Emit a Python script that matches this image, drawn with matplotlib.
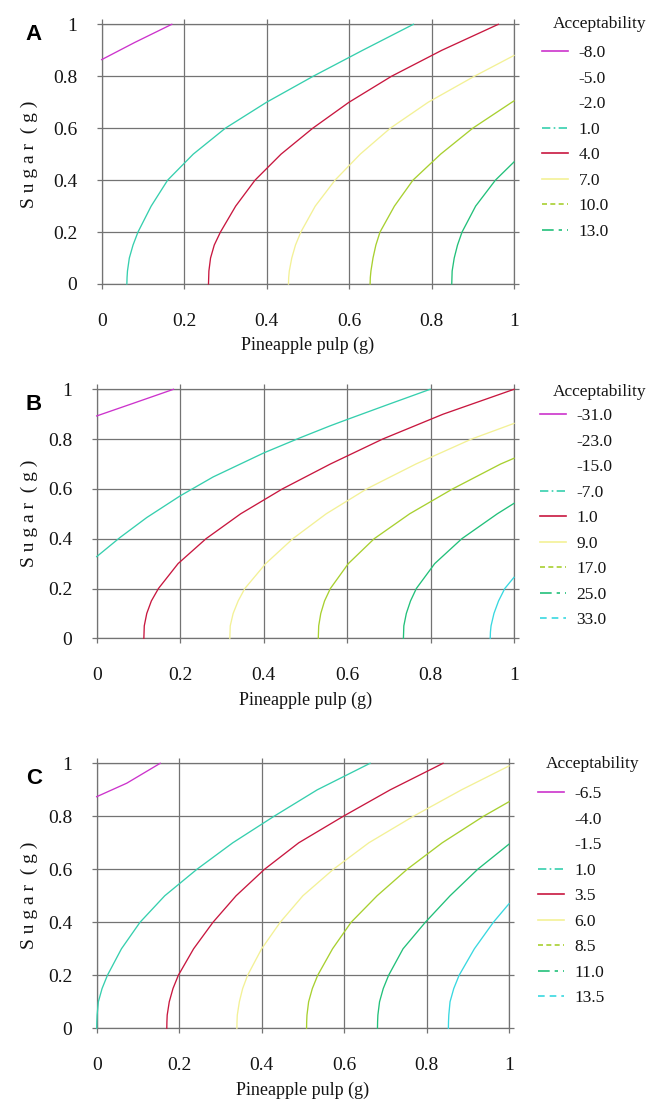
import matplotlib
matplotlib.use("Agg")
import matplotlib.pyplot as plt
from matplotlib.lines import Line2D

W, H = 662, 1111

# ---------------- data ----------------
a_levels = ["-8.0", "-5.0", "-2.0", "1.0", "4.0", "7.0", "10.0", "13.0"]
b_levels = ["-31.0", "-23.0", "-15.0", "-7.0", "1.0", "9.0", "17.0", "25.0", "33.0"]
c_levels = ["-6.5", "-4.0", "-1.5", "1.0", "3.5", "6.0", "8.5", "11.0", "13.5"]

# contour lines, keyed by level: pineapple pulp (x) and sugar (y)
a_curve_x = {
    "-8.0": [0.0, 0.08, 0.17],
    "1.0": [0.061, 0.0615, 0.0625, 0.067, 0.076, 0.088, 0.12, 0.16, 0.222, 0.30, 0.40, 0.513, 0.633, 0.756],
    "4.0": [0.259, 0.2595, 0.26, 0.264, 0.273, 0.288, 0.325, 0.372, 0.435, 0.512, 0.60, 0.703, 0.825, 0.962],
    "7.0": [0.453, 0.4535, 0.455, 0.461, 0.47, 0.483, 0.518, 0.566, 0.627, 0.70, 0.792, 0.904, 1.0],
    "10.0": [0.651, 0.6515, 0.653, 0.658, 0.665, 0.675, 0.71, 0.755, 0.822, 0.90, 0.995, 1.0],
    "13.0": [0.849, 0.8495, 0.85, 0.855, 0.863, 0.874, 0.907, 0.955, 1.0],
}
a_curve_y = {
    "-8.0": [0.864, 0.93, 1.0],
    "1.0": [0.0, 0.025, 0.05, 0.1, 0.15, 0.2, 0.3, 0.4, 0.5, 0.6, 0.7, 0.8, 0.9, 1.0],
    "4.0": [0.0, 0.025, 0.05, 0.1, 0.15, 0.2, 0.3, 0.4, 0.5, 0.6, 0.7, 0.8, 0.9, 1.0],
    "7.0": [0.0, 0.025, 0.05, 0.1, 0.15, 0.2, 0.3, 0.4, 0.5, 0.6, 0.7, 0.8, 0.88],
    "10.0": [0.0, 0.025, 0.05, 0.1, 0.15, 0.2, 0.3, 0.4, 0.5, 0.6, 0.7, 0.705],
    "13.0": [0.0, 0.025, 0.05, 0.1, 0.15, 0.2, 0.3, 0.4, 0.47],
}
b_curve_x = {
    "-31.0": [0.0, 0.088, 0.184],
    "-7.0": [0.0, 0.056, 0.12, 0.2, 0.279, 0.401, 0.487, 0.559, 0.599, 0.70, 0.799],
    "1.0": [0.113, 0.1135, 0.114, 0.12, 0.131, 0.148, 0.195, 0.262, 0.345, 0.445, 0.56, 0.685, 0.83, 1.0],
    "9.0": [0.319, 0.3195, 0.32, 0.327, 0.339, 0.355, 0.405, 0.47, 0.55, 0.647, 0.765, 0.898, 1.0],
    "17.0": [0.531, 0.5315, 0.532, 0.537, 0.546, 0.56, 0.603, 0.665, 0.75, 0.853, 0.968, 1.0],
    "25.0": [0.735, 0.7355, 0.736, 0.742, 0.752, 0.766, 0.81, 0.875, 0.96, 1.0],
    "33.0": [0.943, 0.9435, 0.945, 0.952, 0.963, 0.978, 1.0],
}
b_curve_y = {
    "-31.0": [0.893, 0.944, 1.0],
    "-7.0": [0.328, 0.405, 0.485, 0.572, 0.648, 0.745, 0.805, 0.853, 0.878, 0.94, 1.0],
    "1.0": [0.0, 0.025, 0.05, 0.1, 0.15, 0.2, 0.3, 0.4, 0.5, 0.6, 0.7, 0.8, 0.9, 1.0],
    "9.0": [0.0, 0.025, 0.05, 0.1, 0.15, 0.2, 0.3, 0.4, 0.5, 0.6, 0.7, 0.8, 0.863],
    "17.0": [0.0, 0.025, 0.05, 0.1, 0.15, 0.2, 0.3, 0.4, 0.5, 0.6, 0.7, 0.723],
    "25.0": [0.0, 0.025, 0.05, 0.1, 0.15, 0.2, 0.3, 0.4, 0.5, 0.542],
    "33.0": [0.0, 0.025, 0.05, 0.1, 0.15, 0.2, 0.245],
}
c_curve_x = {
    "-6.5": [0.0, 0.073, 0.154],
    "1.0": [0.0, 0.0003, 0.001, 0.004, 0.013, 0.026, 0.06, 0.105, 0.165, 0.243, 0.33, 0.43, 0.535, 0.663],
    "3.5": [0.17, 0.1703, 0.171, 0.176, 0.185, 0.198, 0.235, 0.282, 0.338, 0.407, 0.49, 0.598, 0.712, 0.84],
    "6.0": [0.34, 0.3403, 0.341, 0.346, 0.354, 0.366, 0.40, 0.445, 0.50, 0.574, 0.66, 0.768, 0.885, 1.0],
    "8.5": [0.509, 0.5093, 0.51, 0.514, 0.523, 0.536, 0.572, 0.617, 0.68, 0.753, 0.838, 0.938, 1.0],
    "11.0": [0.681, 0.6813, 0.682, 0.686, 0.695, 0.708, 0.743, 0.797, 0.857, 0.924, 1.0],
    "13.5": [0.853, 0.8533, 0.854, 0.857, 0.866, 0.879, 0.916, 0.962, 1.0],
}
c_curve_y = {
    "-6.5": [0.874, 0.925, 1.0],
    "1.0": [0.0, 0.025, 0.05, 0.1, 0.15, 0.2, 0.3, 0.4, 0.5, 0.6, 0.7, 0.8, 0.9, 1.0],
    "3.5": [0.0, 0.025, 0.05, 0.1, 0.15, 0.2, 0.3, 0.4, 0.5, 0.6, 0.7, 0.8, 0.9, 1.0],
    "6.0": [0.0, 0.025, 0.05, 0.1, 0.15, 0.2, 0.3, 0.4, 0.5, 0.6, 0.7, 0.8, 0.9, 0.99],
    "8.5": [0.0, 0.025, 0.05, 0.1, 0.15, 0.2, 0.3, 0.4, 0.5, 0.6, 0.7, 0.8, 0.855],
    "11.0": [0.0, 0.025, 0.05, 0.1, 0.15, 0.2, 0.3, 0.4, 0.5, 0.6, 0.695],
    "13.5": [0.0, 0.025, 0.05, 0.1, 0.15, 0.2, 0.3, 0.4, 0.47],
}

ticks = [0, 0.2, 0.4, 0.6, 0.8, 1]
tick_labels = ["0", "0.2", "0.4", "0.6", "0.8", "1"]
panel_letters = ["A", "B", "C"]
x_label = "Pineapple pulp (g)"
y_label = "S u g a r  ( g )"
legend_title = "Acceptability"

# ---------------- styles ----------------
level_colors = ["#cc33cc", "none", "none", "#36cfae", "#c8173f", "#f3f196",
                "#a8d030", "#22c07a", "#38d8e0"]
legend_styles = ["-", "None", "None", (0, (5, 2, 1, 2)), "-", "-",
                 (0, (3, 2)), (0, (7, 3, 2, 3)), (0, (4, 3))]

SERIF = ["Liberation Serif", "DejaVu Serif"]
SANS = ["Liberation Sans", "DejaVu Sans"]
GRID = "#737373"
TXT = "#141414"

fig = plt.figure(figsize=(W / 100, H / 100), dpi=100)
fig.patch.set_facecolor("white")

# axes boxes in pixels: left, right, top, bottom
boxes = [(101.7, 514.0, 24.3, 284.0), (96.7, 514.0, 389.3, 638.3), (96.7, 509.0, 763.3, 1028.3)]
letter_y = [35, 405, 778]
legend_pos = [  # title centre x,y ; handle start x ; first row centre y
    (600, 24, 542, 52),
    (600, 392, 540, 415),
    (593, 764, 538, 793),
]
panels = [(a_levels, a_curve_x, a_curve_y), (b_levels, b_curve_x, b_curve_y),
          (c_levels, c_curve_x, c_curve_y)]

for i, ((levels, cx, cy), (l, r, t, b)) in enumerate(zip(panels, boxes)):
    ax = fig.add_axes([l / W, 1 - b / H, (r - l) / W, (b - t) / H])
    ax.set_xlim(0, 1)
    ax.set_ylim(0, 1)
    for s in ax.spines.values():
        s.set_color(GRID)
        s.set_linewidth(0.9)
    ax.set_xticks(ticks)
    ax.set_yticks(ticks)
    ax.set_xticklabels(tick_labels, fontfamily=SERIF, fontsize=14, color=TXT)
    ax.set_yticklabels(tick_labels, fontfamily=SERIF, fontsize=14, color=TXT)
    ax.tick_params(axis="both", which="both", direction="out", length=3.6, width=0.9,
                   color=GRID, top=True, right=True, labeltop=False, labelright=False)
    ax.tick_params(axis="x", pad=17)
    ax.tick_params(axis="y", pad=14)
    ax.grid(True, color=GRID, linewidth=0.9)
    ax.set_axisbelow(True)

    handles = []
    for k, lev in enumerate(levels):
        if lev in cx:
            ax.plot(cx[lev], cy[lev], color=level_colors[k], linewidth=0.95,
                    solid_joinstyle="round", clip_on=False, zorder=3)
        handles.append(Line2D([], [], color=level_colors[k] if level_colors[k] != "none" else "white",
                              linestyle=legend_styles[k], linewidth=1.2, label=lev))

    ax_h = b - t
    ax_w = r - l
    ax.set_xlabel(x_label, fontfamily=SERIF, fontsize=13, color=TXT)
    ax.xaxis.set_label_coords(0.5, -53.0 / ax_h)
    ax.set_ylabel(y_label, fontfamily=SERIF, fontsize=14, color=TXT)
    ax.yaxis.set_label_coords(-(l - 38.0) / ax_w, 0.5)

    fig.text(34 / W, 1 - letter_y[i] / H, panel_letters[i], fontfamily=SANS,
             fontweight="bold", fontsize=16, color="black", ha="center", va="center")

    tx, ty, hx, ry = legend_pos[i]
    fig.text(tx / W, 1 - ty / H, legend_title, fontfamily=SERIF, fontsize=12.5,
             color=TXT, ha="center", va="center")
    leg = fig.legend(handles=handles, loc="upper left",
                     bbox_to_anchor=(hx / W, 1 - (ry - 7.0) / H),
                     frameon=False, borderpad=0, borderaxespad=0,
                     handlelength=1.5, handletextpad=0.6,
                     labelspacing=0.54, prop={"family": SERIF, "size": 12.5})
    for txt in leg.get_texts():
        txt.set_color(TXT)

fig.savefig("out.png", dpi=100, facecolor="white")
